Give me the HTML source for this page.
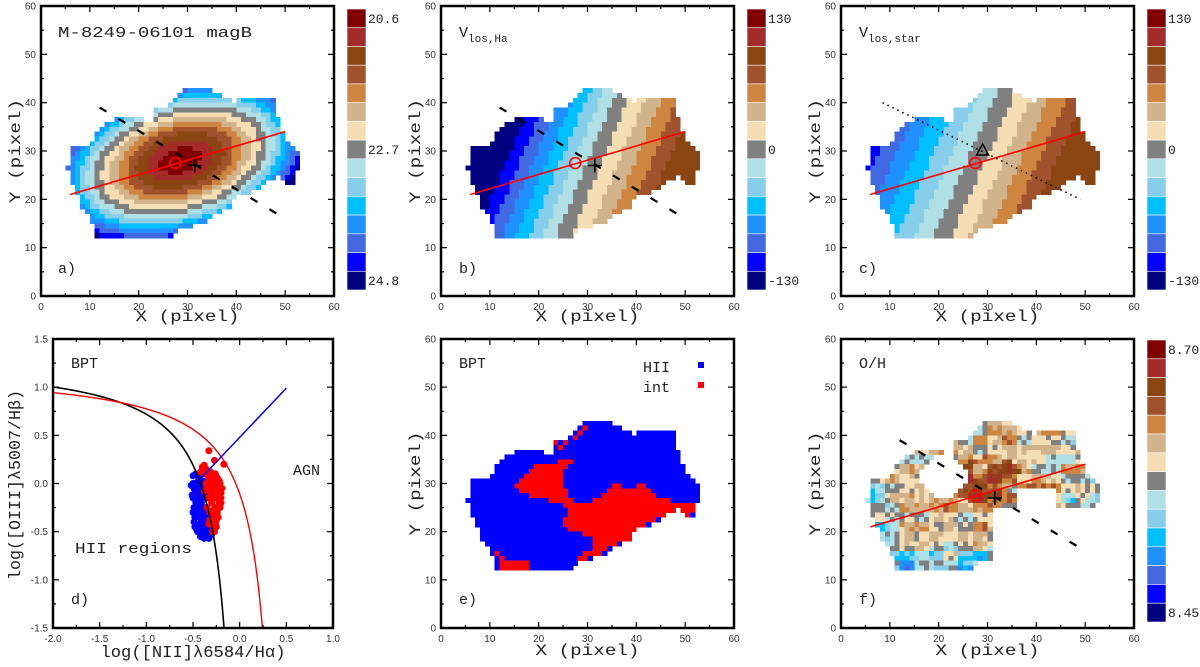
<!DOCTYPE html>
<html><head><meta charset="utf-8"><style>
html,body{margin:0;padding:0;background:#fff;}
svg{display:block;}
text{font-family:"Liberation Mono",monospace;fill:#222;}
.tk{font-family:"Liberation Sans",sans-serif;font-size:10px;fill:#333;}
</style></head><body>
<svg id="fig" width="1200" height="667" viewBox="0 0 1200 667" xmlns="http://www.w3.org/2000/svg"></svg>
<script>
const cmap=['#800000','#a52a2a','#8b4513','#a0522d','#cd853f','#d2b48c','#f5deb3','#808080','#b0e0e6','#87ceeb','#00bfff','#1e90ff','#4169e1','#0000ff','#000080'];
const maskRows=[[42,29,35],[41,28,37],[40,27,39,40,48],[39,26,48],[38,23,48],[37,23,48],[36,15,21,23,49],[35,13,49],[34,12,49],[33,11,50],[32,11,50],[31,10,51],[30,6,52],[29,6,53],[28,6,53],[27,6,53],[26,5,53],[25,6,52],[24,6,48,49,52],[23,6,46,50,52],[22,7,45],[21,7,43],[20,8,40],[19,8,39],[18,8,39],[17,9,37],[16,10,35],[15,10,34],[14,11,31],[13,11,28],[12,11,27]];
const redRows=[[41,29,30],[40,28,29],[39,27,28],[38,23,24,25,26],[37,24,25],[34,24,27],[33,19,26],[32,18,25],[31,17,25],[30,16,25],[29,15,25,35,37,40,42],[28,16,26,34,43],[27,18,26,33,44],[26,22,27,31,47],[25,25,52],[24,26,52],[23,26,51],[22,25,44,48,50],[21,25,42],[20,26,41],[19,29,39],[18,31,39],[17,31,36],[16,31,34],[15,11,12,29,33],[14,12,13,28,30],[13,12,18,28,29],[12,12,18]];
const cbarLabelsA=['20.6','22.7','24.8'];
const cbarLabelsV=['130','0','-130'];
const cbarLabelsF=['8.70','8.45'];
const majorLine=[[6,21],[50,34]];
const minorLine=[[12,39],[50,16]];
const minorLineC=[[8.5,40],[49,20]];
const kinCenter=[27.5,27.5];
const photCenter=[31.5,27];
const triC=[29,30];
const bptBlue=[[-0.47,0.1],[-0.5,0.0],[-0.49,-0.05],[-0.5,-0.15],[-0.49,-0.25],[-0.48,-0.35],[-0.47,-0.45],[-0.45,-0.5],[-0.42,-0.55],[-0.38,-0.57],[-0.33,-0.57],[-0.3,-0.53],[-0.45,0.02],[-0.44,-0.1],[-0.43,-0.2],[-0.42,-0.3],[-0.4,-0.4],[-0.38,-0.48],[-0.35,-0.5],[-0.46,-0.3],[-0.41,-0.05],[-0.39,-0.15],[-0.37,-0.25],[-0.36,-0.35],[-0.34,-0.43],[-0.44,-0.42],[-0.47,-0.2],[-0.4,0.03],[-0.32,-0.45],[-0.48,-0.1],[-0.46,-0.05],[-0.44,-0.25],[-0.41,-0.45],[-0.36,-0.55],[-0.52,-0.02],[-0.51,-0.12],[-0.5,-0.3],[-0.49,-0.4],[-0.46,-0.48],[-0.43,-0.5],[-0.4,-0.52],[-0.35,-0.45],[-0.33,-0.5],[-0.31,-0.4],[-0.45,-0.15],[-0.43,-0.35],[-0.39,-0.3],[-0.38,-0.38],[-0.37,-0.1],[-0.42,0.0],[-0.44,0.07],[-0.5,0.08],[-0.48,-0.45],[-0.41,-0.2],[-0.36,-0.45],[-0.34,-0.35],[-0.39,-0.05]];
const bptRed=[[-0.4,0.17],[-0.38,0.19],[-0.36,0.15],[-0.33,0.34],[-0.27,0.24],[-0.17,0.2],[-0.42,0.12],[-0.34,0.08],[-0.3,0.05],[-0.25,-0.02],[-0.22,-0.07],[-0.2,-0.1],[-0.28,-0.05],[-0.32,-0.02],[-0.36,0.0],[-0.24,-0.15],[-0.22,-0.2],[-0.26,-0.25],[-0.3,-0.2],[-0.34,-0.15],[-0.32,-0.3],[-0.27,-0.35],[-0.24,-0.3],[-0.3,-0.4],[-0.28,-0.45],[-0.27,-0.5],[-0.33,-0.42],[-0.35,-0.25],[-0.23,-0.1],[-0.38,-0.08],[-0.21,0.0],[-0.26,0.1],[-0.31,0.12],[-0.29,-0.28],[-0.25,-0.38],[-0.19,-0.05],[-0.2,-0.15],[-0.21,-0.25],[-0.23,-0.35],[-0.25,-0.45],[-0.29,-0.5],[-0.3,-0.3],[-0.28,-0.15],[-0.26,-0.08],[-0.33,0.05],[-0.37,0.1],[-0.39,0.14],[-0.35,-0.05],[-0.31,-0.1],[-0.22,0.03],[-0.24,0.06],[-0.28,0.02],[-0.2,-0.2],[-0.26,-0.42],[-0.32,-0.38]];
const bptBlueLine=[[-0.41,0.06],[0.5,0.99]];

const NS='http://www.w3.org/2000/svg';
const svg=document.getElementById('fig');
function mk(tag,attrs,parent){const e=document.createElementNS(NS,tag);for(const k in attrs)e.setAttribute(k,attrs[k]);(parent||svg).appendChild(e);return e;}
function scales(L,R,T,B,x0,x1,y0,y1){return {L,R,T,B,sx:v=>L+(v-x0)/(x1-x0)*(R-L),sy:v=>B-(v-y0)/(y1-y0)*(B-T)};}
function txt(x,y,s,size,attrs){const t=mk('text',Object.assign({x:x,y:y,'font-size':size},attrs||{}));t.textContent=s;return t;}

function axes(p,xs,ys,xmin,ymin,fmt){
  const g=mk('g',{});
  
  
  xs.forEach(([v,maj])=>{const x=p.sx(v),l=maj?6:3;
    mk('line',{x1:x,x2:x,y1:p.B,y2:p.B-l,stroke:'#000','stroke-width':1.2},g);
    mk('line',{x1:x,x2:x,y1:p.T,y2:p.T+l,stroke:'#000','stroke-width':1.2},g);
    if(maj){const t=txt(x,p.B+14,fmt(v),10,{'text-anchor':'middle',class:'tk'});g.appendChild(t);
      
      }
  });
  ys.forEach(([v,maj])=>{const y=p.sy(v),l=maj?6:3;
    mk('line',{x1:p.L,x2:p.L+l,y1:y,y2:y,stroke:'#000','stroke-width':1.2},g);
    mk('line',{x1:p.R,x2:p.R-l,y1:y,y2:y,stroke:'#000','stroke-width':1.2},g);
    if(maj){const t=txt(p.L-5,y+3.5,fmt(v),10,{'text-anchor':'end',class:'tk'});g.appendChild(t);
      
      }
  });
  const f=mk('rect',{x:p.L,y:p.T,width:p.R-p.L,height:p.B-p.T,fill:'none',stroke:'#000','stroke-width':2.5},g);
  
  
}
function mapTicks(){const a=[];for(let v=0;v<=60;v+=5)a.push([v,v%10===0]);return a;}

function inRows(rows,x,y){for(const r of rows){if(r[0]!==y)continue;for(let k=1;k<r.length;k+=2)if(x>=r[k]&&x<r[k+1])return true;}return false;}
function isRed(x,y){return inRows(redRows,x,y);}
function clampI(i){return Math.max(0,Math.min(14,i));}

function drawMap(p,colorFn,name){
  const g=mk('g',{'shape-rendering':'crispEdges'});
  
  
  const cw=p.sx(1)-p.sx(0),ch=p.sy(0)-p.sy(1);
  for(const r of maskRows){const y=r[0];
    for(let k=1;k<r.length;k+=2)for(let x=r[k];x<r[k+1];x++){
      const c=colorFn(x,y); if(!c)continue;
      const e=mk('rect',{x:p.sx(x),y:p.sy(y+1),width:cw+0.4,height:ch+0.4,fill:c},g);
      
      
    }}
}
function overlays(p,dotted,showPlus,showTri){
  const ml=mk('line',{x1:p.sx(majorLine[0][0]),y1:p.sy(majorLine[0][1]),x2:p.sx(majorLine[1][0]),y2:p.sy(majorLine[1][1]),stroke:'#f00','stroke-width':1.6});
  
  
  const L=dotted?minorLineC:minorLine;
  const dl=mk('line',{x1:p.sx(L[0][0]),y1:p.sy(L[0][1]),x2:p.sx(L[1][0]),y2:p.sy(L[1][1]),stroke:'#000','stroke-width':dotted?1.6:2.2,'stroke-dasharray':dotted?'1.5,4':'8,14'});
  
  
  const c=mk('circle',{cx:p.sx(kinCenter[0]),cy:p.sy(kinCenter[1]),r:5.5,fill:'none',stroke:'#f00','stroke-width':1.6});
  
  
  if(showPlus){const x=p.sx(photCenter[0]),y=p.sy(photCenter[1]);
    const pl=mk('path',{d:`M${x-7},${y}H${x+7}M${x},${y-7}V${y+7}`,stroke:'#000','stroke-width':1.5});
    
    }
  if(showTri){const x=p.sx(triC[0]),y=p.sy(triC[1]);
    const tr=mk('path',{d:`M${x},${y-7}L${x+6},${y+4}L${x-6},${y+4}Z`,fill:'none',stroke:'#000','stroke-width':1.5});
    
    }
}
function colorbar(x,T,B,labels,name){
  const g=mk('g',{});
  
  
  const h=(B-T)/15;
  cmap.forEach((c,i)=>{const r=mk('rect',{x:x,y:T+i*h,width:19,height:h,fill:c,stroke:'#fff','stroke-width':0.6},g);
    
    });
  labels.forEach((s,i)=>{const y=labels.length===3?[T+h/2,T+7.5*h,T+14.5*h][i]:[T+h/2,T+14.5*h][i];
    const t=txt(x+21,y+4.5,s,13,{}); g.appendChild(t);
    
    });
}
function mapTitles(col,p,row){
  const cx=(p.L+p.R)/2;
  const xt=txt(cx,row?655:321,'X   (pixel)',16,{'text-anchor':'middle',textLength:104,lengthAdjust:'spacingAndGlyphs'});
  
  
  const cy=(p.T+p.B)/2;
  const yt=txt(0,0,'Y  (pixel)',16,{'text-anchor':'middle',transform:`translate(${col+20},${cy}) rotate(-90)`,textLength:104,lengthAdjust:'spacingAndGlyphs'});
  
  
}
function label(x,y,s,size,name,w){const t=txt(x,y,s,size,w?{textLength:w,lengthAdjust:'spacingAndGlyphs'}:{});
  
  return t;}

// models
function magIdx(x,y){const dx=x+0.5-28.5,dy=y+0.5-28,th=16.5*Math.PI/180;
  const u=dx*Math.cos(th)+dy*Math.sin(th),v=-dx*Math.sin(th)+dy*Math.cos(th);
  const r=Math.sqrt(u*u+(v/0.58)*(v/0.58));return clampI(Math.floor(13.5*Math.pow(r/26,1.46)));}
function velIdx(x,y,cx,cy,ax,ay,kp,kn,vmax,vmin){const dx=x+0.5-cx,dy=y+0.5-cy,n=Math.hypot(ax,ay);ax/=n;ay/=n;
  const d=dx*ax+dy*ay;
  const v=d>0?Math.min(vmax,kp*d):Math.max(vmin,kn*d);
  return clampI(Math.floor((130-v)/260*15));}
function hash(a,b){const s=Math.sin(a*12.9898+b*78.233)*43758.5453;return s-Math.floor(s);}
function ohIdx(x,y){const dx=x+0.5-29.5,dy=y+0.5-31,th=16.5*Math.PI/180;
  const u=dx*Math.cos(th)+dy*Math.sin(th),v=-dx*Math.sin(th)+dy*Math.cos(th);
  const r=Math.hypot(u/1.2,v/0.75);
  const j=(hash(Math.floor(x/3),Math.floor(y/2))-0.5)*4.2+(hash(x,y)-0.5)*1.6;
  let base=r<6?3:(r<16?5.6:5.6+(r-16)*0.55);
  return clampI(Math.round(base+j));}
function ohMask(x,y){
  if(((x+0.5-21)/5)**2+((y+0.5-31.5)/4.2)**2<1)return false;
  if(x>=31&&y<=24&&!(x>=48&&y>=22))return false;
  if(x>=36&&x<44&&y<=28)return false;
  if(x>=44&&y<=24)return false;
  return true;}

// Panel a
let p=scales(41,334,6,296,0,60,0,60);
drawMap(p,(x,y)=>cmap[magIdx(x,y)],'magB-map');
overlays(p,false,true,false);
axes(p,mapTicks(),mapTicks(),0,0,v=>String(v));
colorbar(347,9,290,cbarLabelsA,'colorbar-magB');
mapTitles(0,p,0);
label(58,37,'M-8249-06101  magB',15,'panel-title',194);
label(58,273,'a)',15,'panel-label');

// Panel b
p=scales(441,734,6,296,0,60,0,60);
drawMap(p,(x,y)=>cmap[velIdx(x,y,31,27,0.92,-0.38,5.6,6.8,95,-130)],'vlos-ha-map');
overlays(p,false,true,false);
axes(p,mapTicks(),mapTicks(),0,0,v=>String(v));
colorbar(747,9,290,cbarLabelsV,'colorbar-vlos-ha');
mapTitles(400,p,0);
{const t=label(459,37,'V',15,'panel-title');const ts=mk('tspan',{dy:5,'font-size':11},t);ts.textContent='los,Ha';}
label(459,273,'b)',15,'panel-label');

// Panel c
p=scales(841,1134,6,296,0,60,0,60);
drawMap(p,(x,y)=>cmap[velIdx(x,y,27.5,27.5,0.91,-0.4,5.2,5.0,90,-112)],'vlos-star-map');
overlays(p,true,false,true);
axes(p,mapTicks(),mapTicks(),0,0,v=>String(v));
colorbar(1147,9,290,cbarLabelsV,'colorbar-vlos-star');
mapTitles(800,p,0);
{const t=label(859,37,'V',15,'panel-title');const ts=mk('tspan',{dy:5,'font-size':11},t);ts.textContent='los,star';}
label(859,273,'c)',15,'panel-label');

// Panel d BPT diagram
p=scales(53,333,339,628,-2,1,-1.5,1.5);
{
  const g=mk('g',{});
  
  
  const kauf=x=>0.61/(x-0.05)+1.3, kew=x=>0.61/(x-0.47)+1.19;
  let d1='',d2='';
  for(let x=-2;x<=-0.168;x+=0.005){const y=kauf(x);if(y<-1.5)break;d1+=(d1?'L':'M')+p.sx(x).toFixed(2)+','+p.sy(y).toFixed(2);}
  d1+='L'+p.sx(-0.168)+','+p.sy(-1.5);
  for(let x=-2;x<=0.243;x+=0.005){const y=kew(x);if(y<-1.5)break;d2+=(d2?'L':'M')+p.sx(x).toFixed(2)+','+p.sy(y).toFixed(2);}
  d2+='L'+p.sx(0.243)+','+p.sy(-1.5);
  bptBlue.forEach(([x,y])=>{const c=mk('circle',{cx:p.sx(x),cy:p.sy(y),r:3.5,fill:'#00f'},g);
    
    });
  bptRed.forEach(([x,y])=>{const c=mk('circle',{cx:p.sx(x),cy:p.sy(y),r:3.5,fill:'#f00'},g);
    
    });
  const k1=mk('path',{d:d1,fill:'none',stroke:'#000','stroke-width':1.6},g);
  
  
  const k2=mk('path',{d:d2,fill:'none',stroke:'#f00','stroke-width':1.4},g);
  
  
  const bl=mk('line',{x1:p.sx(bptBlueLine[0][0]),y1:p.sy(bptBlueLine[0][1]),x2:p.sx(bptBlueLine[1][0]),y2:p.sy(bptBlueLine[1][1]),stroke:'#00f','stroke-width':1.5},g);
  
  
}
{const xs=[],ys=[];for(let i=0;i<=12;i++){xs.push([-2+i*0.25,i%2===0]);ys.push([-1.5+i*0.25,i%2===0]);}
 axes(p,xs,ys,-2,-1.5,v=>v.toFixed(1));}
label(71,368,'BPT',15,'panel-title');
label(293,475,'AGN',15,'region-label');
label(75,553,'HII regions',15,'region-label',117);
label(71,604,'d)',15,'panel-label');
{const t=txt(193,657,'log([NII]λ6584/Hα)',17,{'text-anchor':'middle',textLength:185,lengthAdjust:'spacingAndGlyphs'});
 
 
 const y=txt(0,0,'log([OIII]λ5007/Hβ)',17,{'text-anchor':'middle',transform:'translate(20,485) rotate(-90)',textLength:190,lengthAdjust:'spacingAndGlyphs'});
 
 }

// Panel e
p=scales(441,734,339,628,0,60,0,60);
drawMap(p,(x,y)=>isRed(x,y)?'#f00':'#00f','bpt-class-map');
axes(p,mapTicks(),mapTicks(),0,0,v=>String(v));
mapTitles(400,p,1);
label(459,368,'BPT',15,'panel-title');
label(459,604,'e)',15,'panel-label');
label(643,372,'HII',15,'legend-label');
label(643,392,'int',15,'legend-label');
{const a=mk('rect',{x:698,y:362,width:6,height:6,fill:'#00f'});
 
 
 const b=mk('rect',{x:698,y:382,width:6,height:6,fill:'#f00'});
 
 }

// Panel f
p=scales(841,1134,339,628,0,60,0,60);
drawMap(p,(x,y)=>ohMask(x,y)?cmap[ohIdx(x,y)]:null,'oh-map');
overlays(p,false,true,false);
axes(p,mapTicks(),mapTicks(),0,0,v=>String(v));
colorbar(1147,340,622,cbarLabelsF,'colorbar-oh');
mapTitles(800,p,1);
label(859,368,'O/H',15,'panel-title');
label(859,604,'f)',15,'panel-label');
</script>
</body></html>
